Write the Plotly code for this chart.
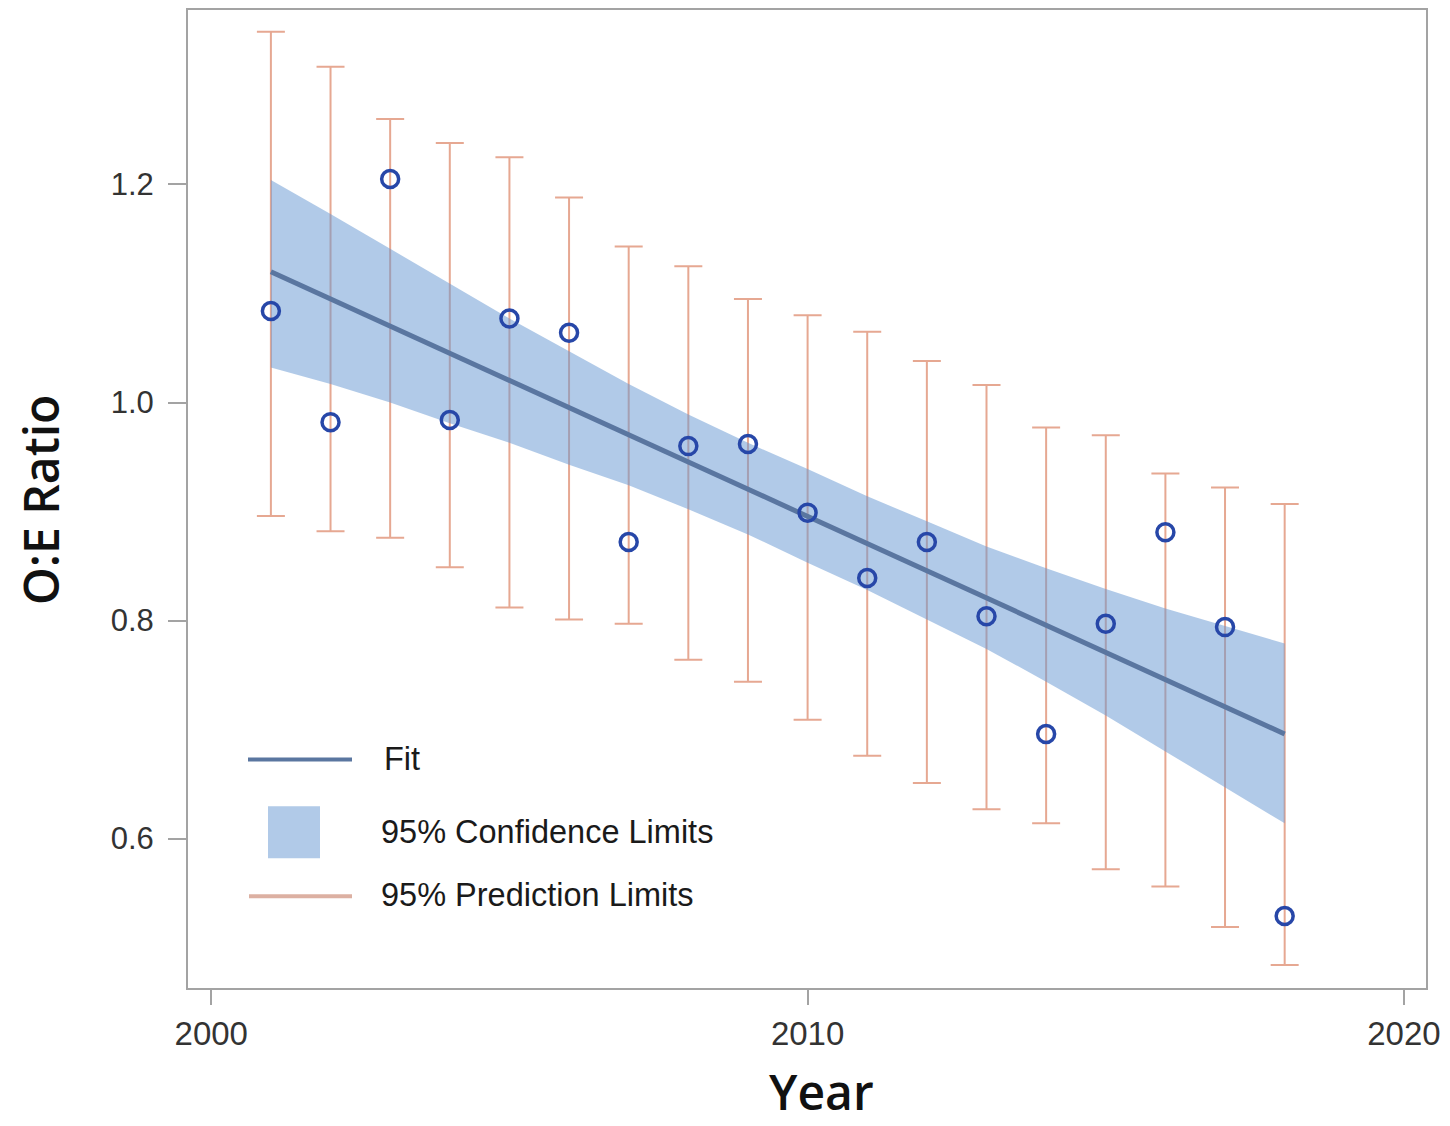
import plotly.graph_objects as go

# Observed-to-expected ratios by year, with the fitted trend and its limits
years = [2001, 2002, 2003, 2004, 2005, 2006, 2007, 2008, 2009,
         2010, 2011, 2012, 2013, 2014, 2015, 2016, 2017, 2018]
oe_ratio = [1.084, 0.982, 1.205, 0.984, 1.077, 1.064, 0.872, 0.960, 0.962,
            0.899, 0.839, 0.872, 0.804, 0.696, 0.797, 0.881, 0.794, 0.529]
fit = [1.120, 1.095, 1.070, 1.045, 1.020, 0.995, 0.971, 0.946, 0.921,
       0.896, 0.871, 0.846, 0.821, 0.796, 0.771, 0.746, 0.721, 0.696]
conf_upper = [1.204, 1.173, 1.141, 1.109, 1.077, 1.047, 1.017, 0.989, 0.963,
              0.939, 0.914, 0.891, 0.868, 0.848, 0.829, 0.811, 0.795, 0.779]
conf_lower = [1.032, 1.017, 1.000, 0.981, 0.963, 0.943, 0.924, 0.902, 0.879,
              0.853, 0.828, 0.801, 0.774, 0.744, 0.713, 0.680, 0.647, 0.614]
pred_upper = [1.340, 1.308, 1.260, 1.238, 1.225, 1.188, 1.143, 1.125, 1.095,
              1.080, 1.065, 1.038, 1.016, 0.977, 0.970, 0.935, 0.922, 0.907]
pred_lower = [0.896, 0.882, 0.876, 0.849, 0.812, 0.801, 0.797, 0.764, 0.744,
              0.709, 0.676, 0.651, 0.627, 0.614, 0.572, 0.556, 0.519, 0.484]

x_ticks = [2000, 2010, 2020]
y_ticks = [0.6, 0.8, 1.0, 1.2]
legend_labels = ["Fit", "95% Confidence Limits", "95% Prediction Limits"]
x_title = "Year"
y_title = "O:E Ratio"

FIT_COLOR = "#5a76a0"
BAND_COLOR = "rgba(100,150,210,0.5)"
PRED_COLOR = "#e6a892"
POINT_COLOR = "#2747a8"
AXIS_COLOR = "#a3a3a3"
BODY_FONT = "Liberation Sans, Arial, sans-serif"
TITLE_FONT = dict(family="Open Sans", size=48, color="#111111", weight=600)

fig = go.Figure()

# Prediction limits drawn as error bars around the fitted values
fig.add_trace(go.Scatter(
    x=years, y=fit, mode="markers",
    marker=dict(size=1, color="rgba(0,0,0,0)"),
    error_y=dict(
        type="data", symmetric=False,
        array=[u - f for u, f in zip(pred_upper, fit)],
        arrayminus=[f - l for f, l in zip(fit, pred_lower)],
        color=PRED_COLOR, thickness=2, width=14,
    ),
    showlegend=False, hoverinfo="skip",
))

# Confidence band
fig.add_trace(go.Scatter(
    x=years, y=conf_lower, mode="lines", line=dict(width=0),
    showlegend=False, hoverinfo="skip",
))
fig.add_trace(go.Scatter(
    x=years, y=conf_upper, mode="lines", line=dict(width=0),
    fill="tonexty", fillcolor=BAND_COLOR,
    showlegend=False, hoverinfo="skip",
))

# Fitted line
fig.add_trace(go.Scatter(
    x=years, y=fit, mode="lines",
    line=dict(color=FIT_COLOR, width=5),
    showlegend=False,
))

# Observed ratios
fig.add_trace(go.Scatter(
    x=years, y=oe_ratio, mode="markers",
    marker=dict(symbol="circle-open", size=17, color=POINT_COLOR,
                line=dict(width=3.5, color=POINT_COLOR)),
    showlegend=False,
))

# Page geometry, used to place the hand-built legend and axis titles
W, H = 1450, 1126
L, R, T, B = 188, 24, 8, 138
pw, ph = W - L - R, H - T - B


def px(x):
    return (x - L) / pw


def py(y):
    return (H - B - y) / ph


shapes = [
    dict(type="line", xref="paper", yref="paper",
         x0=px(248), x1=px(352), y0=py(759), y1=py(759),
         line=dict(color=FIT_COLOR, width=4)),
    dict(type="rect", xref="paper", yref="paper",
         x0=px(268), x1=px(320), y0=py(858), y1=py(806),
         fillcolor=BAND_COLOR, line=dict(width=0)),
    dict(type="line", xref="paper", yref="paper",
         x0=px(249), x1=px(352), y0=py(896), y1=py(896),
         line=dict(color="#dcb0a2", width=4)),
]
label_y = [759, 832, 895]
label_x = [382, 379, 379]
annotations = [
    dict(text=t, xref="paper", yref="paper", x=px(lx), y=py(ly),
         xanchor="left", yanchor="middle", showarrow=False,
         font=dict(family=BODY_FONT, size=32.5, color="#1a1a1a"))
    for t, lx, ly in zip(legend_labels, label_x, label_y)
]
annotations += [
    dict(text=x_title, xref="paper", yref="paper", x=px(821), y=py(1092),
         xanchor="center", yanchor="middle", showarrow=False, font=TITLE_FONT),
    dict(text=y_title, xref="paper", yref="paper", x=px(41), y=py(499),
         xanchor="center", yanchor="middle", showarrow=False, textangle=-90,
         font=TITLE_FONT),
]

fig.update_layout(
    width=W, height=H,
    margin=dict(l=L, r=R, t=T, b=B),
    paper_bgcolor="white", plot_bgcolor="white",
    shapes=shapes, annotations=annotations,
    showlegend=False,
)

fig.update_xaxes(
    range=[1999.61, 2020.37],
    tickvals=x_ticks, ticktext=[str(v) for v in x_ticks],
    ticks="outside", ticklen=15, tickwidth=2, tickcolor=AXIS_COLOR,
    showline=True, mirror=True, linecolor=AXIS_COLOR, linewidth=2,
    showgrid=False, zeroline=False,
    tickfont=dict(family=BODY_FONT, size=33, color="#333333"),
)
fig.update_yaxes(
    range=[0.463, 1.360],
    tickvals=y_ticks, tickformat=".1f",
    ticks="outside", ticklen=18, tickwidth=2, tickcolor=AXIS_COLOR,
    ticklabelstandoff=8,
    showline=True, mirror=True, linecolor=AXIS_COLOR, linewidth=2,
    showgrid=False, zeroline=False,
    tickfont=dict(family=BODY_FONT, size=31, color="#333333"),
)

fig.write_html("out.html")
